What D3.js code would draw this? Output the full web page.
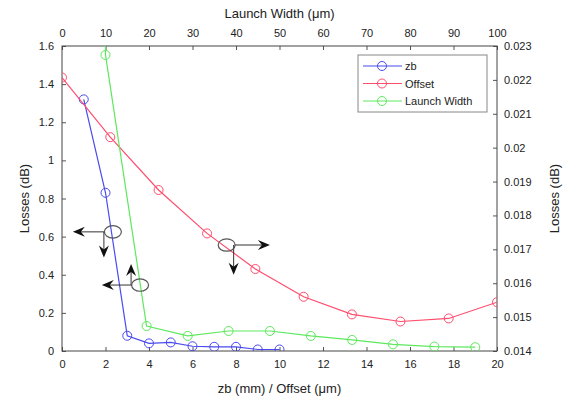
<!DOCTYPE html>
<html>
<head>
<meta charset="utf-8">
<script src="https://cdn.jsdelivr.net/npm/d3@7/dist/d3.min.js"></script>
<style>
  body { margin: 0; background: #fff; }
  svg { font-family: "Liberation Sans", Arial, sans-serif; }
</style>
</head>
<body>
<div id="chart"></div>
<script>
// zb series (bottom axis mm, left axis dB)
var zbX = [1, 2, 3, 4, 5, 6, 7, 8, 9, 10];
var zbY = [1.32, 0.83, 0.08, 0.04, 0.045, 0.025, 0.022, 0.022, 0.008, 0.008];

// offset series (bottom axis um, right axis dB)
var offX = [0, 2.22, 4.44, 6.67, 8.89, 11.11, 13.33, 15.56, 17.78, 20];
var offY = [0.02207, 0.02031, 0.01875, 0.01747, 0.01642, 0.0156, 0.01508, 0.01487, 0.01496, 0.01544];

// launch width series (top axis um, left axis dB) - first point is off the chart
var lwX = [0.56, 10, 19.44, 28.9, 38.3, 47.8, 57.2, 66.7, 76.1, 85.6, 95];
var lwY = [20, 1.553, 0.131, 0.079, 0.105, 0.105, 0.079, 0.058, 0.035, 0.023, 0.02];

var bottomTicks = [0, 2, 4, 6, 8, 10, 12, 14, 16, 18, 20];
var topTicks = [0, 10, 20, 30, 40, 50, 60, 70, 80, 90, 100];
var leftTicks = [0, 0.2, 0.4, 0.6, 0.8, 1, 1.2, 1.4, 1.6];
var rightTicks = [0.014, 0.015, 0.016, 0.017, 0.018, 0.019, 0.02, 0.021, 0.022, 0.023];

var legendNames = ["zb", "Offset", "Launch Width"];
var colors = ["#4a4aee", "#ff4d6d", "#5ee85e"];

// annotation ellipses, in bottom/left data units: centre, horizontal arrow tip x, vertical arrow tip y
var notes = [
  {cx: 2.34, cy: 0.625, hx: 0.5, vy: 0.49, dir: -1, vxOff: -9},
  {cx: 3.59, cy: 0.346, hx: 1.83, vy: 0.456, dir: -1, vxOff: -9},
  {cx: 7.57, cy: 0.556, hx: 9.56, vy: 0.40, dir: 1, vxOff: 7}
];

var margin = {top: 46, right: 70, bottom: 46, left: 62},
    width = 567 - margin.left - margin.right,
    height = 397 - margin.top - margin.bottom;

var svg = d3.select("#chart").append("svg")
    .attr("width", 567)
    .attr("height", 397);

var g = svg.append("g")
    .attr("transform", "translate(" + margin.left + "," + margin.top + ")");

var x = d3.scaleLinear().domain([0, 20]).range([0, width]);
var xTop = d3.scaleLinear().domain([0, 100]).range([0, width]);
var y = d3.scaleLinear().domain([0, 1.6]).range([height, 0]);
var yRight = d3.scaleLinear().domain([0.014, 0.023]).range([height, 0]);

g.append("defs").append("clipPath").attr("id", "clip")
  .append("rect").attr("width", width).attr("height", height);

// axes with inward ticks
function styleAxis(sel) {
  sel.select(".domain").remove();
  sel.selectAll(".tick line").attr("stroke", "#555");
  sel.selectAll("text").attr("fill", "#222").attr("font-size", "11px");
}
var fmt = function(d) { return String(+d.toFixed(3)); };

g.append("g").attr("transform", "translate(0," + height + ")")
  .call(d3.axisBottom(x).tickValues(bottomTicks).tickSizeInner(-4).tickPadding(9).tickFormat(fmt))
  .call(styleAxis);
g.append("g")
  .call(d3.axisTop(xTop).tickValues(topTicks).tickSizeInner(-4).tickPadding(9).tickFormat(fmt))
  .call(styleAxis);
g.append("g")
  .call(d3.axisLeft(y).tickValues(leftTicks).tickSizeInner(-4).tickPadding(8).tickFormat(fmt))
  .call(styleAxis);
g.append("g").attr("transform", "translate(" + width + ",0)")
  .call(d3.axisRight(yRight).tickValues(rightTicks).tickSizeInner(-4).tickPadding(7).tickFormat(fmt))
  .call(styleAxis);

g.append("rect")
  .attr("width", width).attr("height", height)
  .attr("fill", "none").attr("stroke", "#444").attr("stroke-width", 1);

// axis titles
g.append("text").attr("x", width / 2).attr("y", height + 42)
  .attr("text-anchor", "middle").attr("font-size", "13px").attr("fill", "#222")
  .text("zb (mm) / Offset (\u03bcm)");
g.append("text").attr("x", width / 2).attr("y", -28)
  .attr("text-anchor", "middle").attr("font-size", "13px").attr("fill", "#222")
  .text("Launch Width (\u03bcm)");
g.append("text").attr("transform", "translate(-33," + height / 2 + ") rotate(-90)")
  .attr("text-anchor", "middle").attr("font-size", "13px").attr("fill", "#222")
  .text("Losses (dB)");
g.append("text").attr("transform", "translate(" + (width + 62) + "," + height / 2 + ") rotate(-90)")
  .attr("text-anchor", "middle").attr("font-size", "13px").attr("fill", "#222")
  .text("Losses (dB)");

// series
var series = [
  {pts: d3.zip(zbX, zbY), sx: x, sy: y},
  {pts: d3.zip(offX, offY), sx: x, sy: yRight},
  {pts: d3.zip(lwX, lwY), sx: xTop, sy: y}
];

var plot = g.append("g").attr("clip-path", "url(#clip)");
series.forEach(function(s, i) {
  var line = d3.line().x(d => s.sx(d[0])).y(d => s.sy(d[1]));
  plot.append("path").datum(s.pts)
    .attr("d", line).attr("fill", "none")
    .attr("stroke", colors[i]).attr("stroke-width", 1.2);
  plot.selectAll(".m" + i).data(s.pts).enter().append("circle")
    .attr("class", "m" + i)
    .attr("cx", d => s.sx(d[0])).attr("cy", d => s.sy(d[1]))
    .attr("r", 4.5).attr("fill", "none")
    .attr("stroke", colors[i]).attr("stroke-width", 1);
});

// annotations: ellipse + arrows
function arrowHead(tx, ty, angle) {
  // notched filled head pointing at (tx,ty)
  var L = 12, W = 5, N = 4;
  var p = [[0, 0], [-L, -W], [-L + N, 0], [-L, W]];
  var c = Math.cos(angle), s = Math.sin(angle);
  return "M" + p.map(q => [tx + q[0] * c - q[1] * s, ty + q[0] * s + q[1] * c].join(",")).join("L") + "Z";
}
notes.forEach(function(n) {
  var cx = x(n.cx), cy = y(n.cy), hx = x(n.hx), vy = y(n.vy);
  var vx = cx + n.vxOff;
  g.append("line").attr("x1", cx + n.dir * 8).attr("y1", cy).attr("x2", hx - n.dir * 6).attr("y2", cy)
    .attr("stroke", "#333").attr("stroke-width", 1);
  g.append("path").attr("d", arrowHead(hx, cy, n.dir > 0 ? 0 : Math.PI)).attr("fill", "#111");
  var vdir = vy > cy ? 1 : -1;
  g.append("line").attr("x1", vx).attr("y1", cy).attr("x2", vx).attr("y2", vy - vdir * 6)
    .attr("stroke", "#333").attr("stroke-width", 1);
  g.append("path").attr("d", arrowHead(vx, vy, vdir > 0 ? Math.PI / 2 : -Math.PI / 2)).attr("fill", "#111");
  g.append("ellipse").attr("cx", cx).attr("cy", cy).attr("rx", 8.5).attr("ry", 6.2)
    .attr("fill", "none").attr("stroke", "#555").attr("stroke-width", 1.2);
});

// legend
var lg = g.append("g").attr("transform", "translate(296,9)");
lg.append("rect").attr("width", 129).attr("height", 57)
  .attr("fill", "#fff").attr("stroke", "#888").attr("stroke-width", 1);
legendNames.forEach(function(name, i) {
  var ly = 11 + i * 17.5;
  lg.append("line").attr("x1", 5).attr("x2", 44).attr("y1", ly).attr("y2", ly)
    .attr("stroke", colors[i]).attr("stroke-width", 1.2);
  lg.append("circle").attr("cx", 24).attr("cy", ly).attr("r", 4.5)
    .attr("fill", "none").attr("stroke", colors[i]);
  lg.append("text").attr("x", 47).attr("y", ly + 4).attr("font-size", "11px").attr("fill", "#222").text(name);
});
</script>
</body>
</html>
